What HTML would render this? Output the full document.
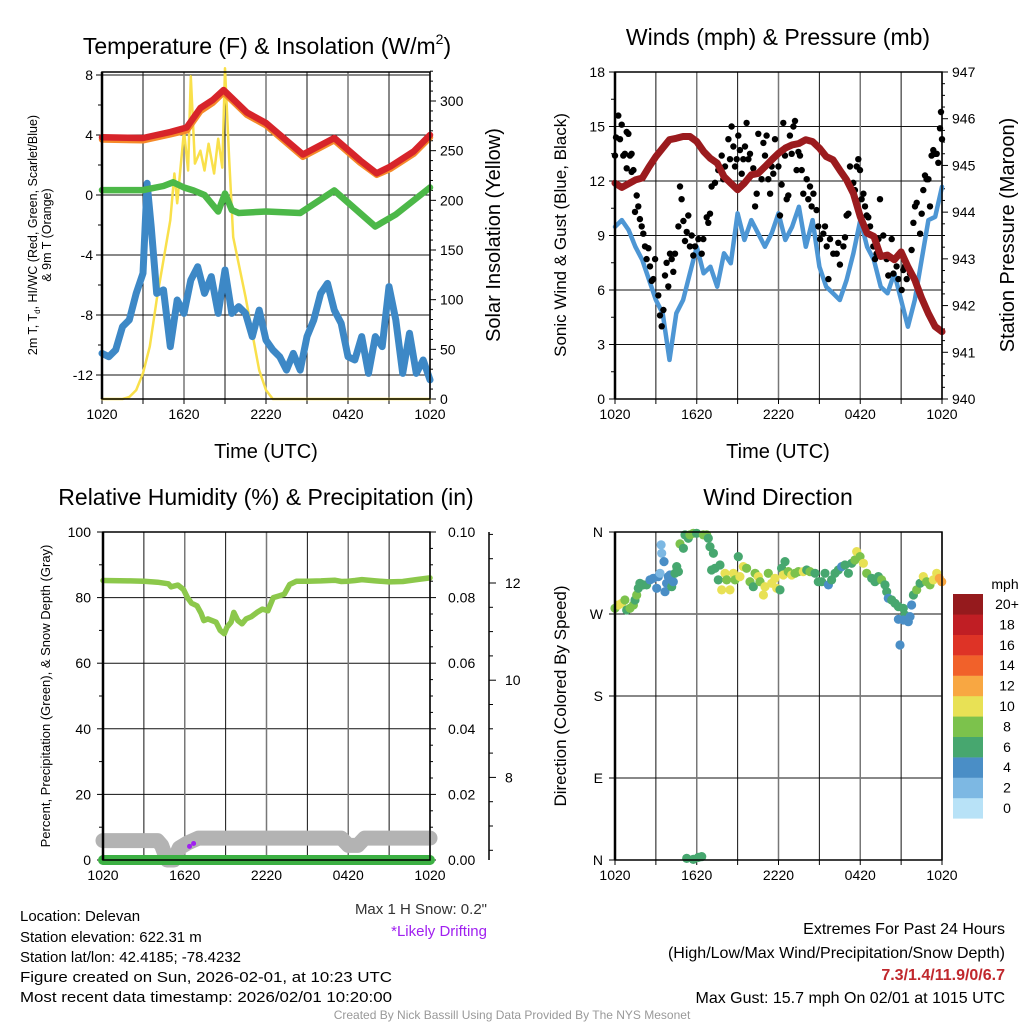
<!DOCTYPE html>
<html><head><meta charset="utf-8"><title>Mesonet Station Meteogram - Delevan</title>
<style>
html,body{margin:0;padding:0;background:#fff;}
svg{display:block;font-family:"Liberation Sans",Arial,sans-serif;}
</style></head>
<body>
<svg id="chart" width="1024" height="1024" viewBox="0 0 1024 1024" xmlns="http://www.w3.org/2000/svg">
<rect x="0" y="0" width="1024" height="1024" fill="#fff"/>
<text x="267" y="54" font-size="23" text-anchor="middle">Temperature (F) &amp; Insolation (W/m<tspan font-size="14" dy="-10">2</tspan><tspan dy="10">)</tspan></text>
<text x="778" y="45" font-size="23" text-anchor="middle">Winds (mph) &amp; Pressure (mb)</text>
<text x="266" y="505" font-size="23" text-anchor="middle">Relative Humidity (%) &amp; Precipitation (in)</text>
<text x="778" y="505" font-size="23" text-anchor="middle">Wind Direction</text>

<text transform="translate(37,235) rotate(-90)" font-size="12.5" text-anchor="middle">2m T, T<tspan font-size="8" dy="3">d</tspan><tspan dy="-3">, HI/WC (Red, Green, Scarlet/Blue)</tspan></text>
<text transform="translate(51,235) rotate(-90)" font-size="12.5" text-anchor="middle">&amp; 9m T (Orange)</text>
<text transform="translate(500,235) rotate(-90)" font-size="20" text-anchor="middle">Solar Insolation (Yellow)</text>
<text x="266" y="458" font-size="20" text-anchor="middle">Time (UTC)</text>

<text transform="translate(566,235) rotate(-90)" font-size="17" text-anchor="middle">Sonic Wind &amp; Gust (Blue, Black)</text>
<text transform="translate(1014,235) rotate(-90)" font-size="20" text-anchor="middle">Station Pressure (Maroon)</text>
<text x="778" y="458" font-size="20" text-anchor="middle">Time (UTC)</text>

<text transform="translate(50,696) rotate(-90)" font-size="13" text-anchor="middle">Percent, Precipitation (Green), &amp; Snow Depth (Gray)</text>
<text transform="translate(566,696) rotate(-90)" font-size="17" text-anchor="middle">Direction (Colored By Speed)</text>

<text x="20" y="921" font-size="15">Location: Delevan</text>
<text x="20" y="942" font-size="15">Station elevation: 622.31 m</text>
<text x="20" y="962" font-size="15">Station lat/lon: 42.4185; -78.4232</text>
<text x="20" y="982" font-size="15" textLength="372" lengthAdjust="spacingAndGlyphs">Figure created on Sun, 2026-02-01, at 10:23 UTC</text>
<text x="20" y="1002" font-size="15" textLength="372" lengthAdjust="spacingAndGlyphs">Most recent data timestamp: 2026/02/01 10:20:00</text>
<text x="487" y="914" font-size="15" text-anchor="end" fill="#333">Max 1 H Snow: 0.2"</text>
<text x="487" y="936" font-size="15" text-anchor="end" fill="#a020f0">*Likely Drifting</text>
<text x="1005" y="934" font-size="16" text-anchor="end">Extremes For Past 24 Hours</text>
<text x="1005" y="958" font-size="16" text-anchor="end">(High/Low/Max Wind/Precipitation/Snow Depth)</text>
<text x="1005" y="980" font-size="16" font-weight="bold" text-anchor="end" fill="#c0282d">7.3/1.4/11.9/0/6.7</text>
<text x="1005" y="1003" font-size="16" text-anchor="end">Max Gust: 15.7 mph On 02/01 at 1015 UTC</text>
<text x="512" y="1019" font-size="12" text-anchor="middle" fill="#999">Created By Nick Bassill Using Data Provided By The NYS Mesonet</text>
</svg>
<script>
// ---------- DATA ----------
const timeLabels = ["1020","1620","2220","0420","1020"];
// Panel 1
const tempH = [0,3,5,6.2,7.2,8.1,8.9,10.6,12,14.7,17,18.9,20.1,21.1,22.8,24];
const tempV = [3.85,3.8,4.2,4.5,5.8,6.33,7.0,5.5,4.8,2.7,3.8,2.3,1.45,1.9,2.9,4.0];
const temp9V = [3.7,3.65,4.05,4.3,5.6,6.15,6.85,5.35,4.65,2.55,3.65,2.15,1.35,1.75,2.75,3.85];
const dewH = [0,3,4.5,5.2,6,6.7,7.5,8.5,9,9.5,10,12,14.5,17,18.5,20,21.5,24];
const dewV = [0.33,0.33,0.6,0.85,0.5,0.3,0,-1.1,0.1,-1.0,-1.2,-1.1,-1.2,0.3,-0.9,-2.1,-1.3,0.5];
const wcH = [0,0.5,1,1.5,2,2.5,3,3.3,3.6,4,4.5,5,5.5,6,6.5,7,7.5,8,8.5,9,9.5,10,10.5,11,11.5,12,12.5,13,13.5,14,14.5,15,15.5,16,16.5,17,17.5,18,18.5,19,19.5,20,20.5,21,21.5,22,22.5,23,23.5,24];
const wcV = [-10.56,-10.78,-10.33,-8.78,-8.33,-6.56,-5.22,0.78,-2.11,-6.56,-6.33,-10.11,-7,-7.89,-5.67,-4.78,-6.56,-5.44,-7.89,-5,-7.89,-7.44,-7.89,-9.44,-7.67,-9.67,-10.33,-10.78,-11.67,-10.56,-11.67,-9.44,-8.33,-6.56,-5.89,-7.67,-8.56,-10.78,-11,-9.44,-11.89,-9.44,-10.11,-6.11,-8.33,-11.89,-9.22,-11.89,-11,-12.33];
const solH = [0,1.5,2,2.5,3,3.5,4,4.5,5,5.3,5.5,6,6.3,6.5,6.8,7.2,7.5,7.8,8.2,8.5,8.8,9,9.3,9.6,10,10.5,11,11.5,12,12.5,24];
const solV = [0,0,2,9,26,53,100,140,180,227,197,270,230,325,237,250,230,257,227,262,233,333,243,163,136,103,66,29,9,0,0];
const tempTicks = [8,4,0,-4,-8,-12];
const solTicks = [0,50,100,150,200,250,300];
// Panel 2
const presH = [0,0.5,1.5,2,2.5,3,3.5,4,4.5,5,5.5,6,6.5,7,7.5,8,8.5,9,9.5,10,10.5,11,11.5,12,12.5,13,13.5,14,14.5,15,15.5,16,16.5,17,17.5,18,18.5,19,19.5,20,20.5,21,21.5,22,22.5,23,23.5,24];
const presV = [944.62,944.53,944.69,944.73,944.97,945.19,945.37,945.55,945.58,945.62,945.62,945.51,945.30,945.15,945.05,944.76,944.62,944.48,944.62,944.80,944.83,944.97,945.12,945.26,945.37,945.44,945.47,945.55,945.51,945.37,945.19,945.12,944.90,944.69,944.40,943.90,943.55,943.48,943.05,943.08,942.98,943.15,942.83,942.55,942.16,941.83,941.55,941.44];
const windH = [0,0.5,1,1.5,2,2.5,3,3.5,4,4.5,5,5.5,6,6.5,7,7.5,8,8.5,9,9.5,10,10.5,11,11.5,12,12.5,13,13.5,14,14.5,15,15.5,16,16.5,17,17.5,18,18.5,19,19.5,20,20.5,21,21.5,22,22.5,23,23.5,24];
const windV = [9.48,9.85,9.30,8.38,7.65,6.55,5.45,4.72,2.15,4.72,5.45,6.92,8.38,6.92,7.28,6.18,8.02,7.47,10.22,8.75,9.85,9.12,8.38,9.12,10.22,8.75,9.48,10.58,8.38,9.85,7.28,6.18,5.82,5.45,6.55,8.02,9.85,8.38,7.65,6.18,5.82,6.92,5.45,3.98,5.45,7.65,9.85,10.03,11.68];
const gustH = [0,0.07,0.24,0.37,0.49,0.61,0.73,0.86,0.86,0.98,1.1,1.22,1.22,1.35,1.47,1.59,1.71,1.83,1.96,2.08,2.2,2.32,2.45,2.57,2.69,2.81,2.94,3.18,3.3,3.43,3.55,3.67,3.79,3.91,4.04,4.16,4.28,4.4,4.65,4.77,4.89,5.02,5.14,5.26,5.38,5.5,5.63,5.75,5.87,6.12,6.36,6.48,6.73,6.85,6.97,7.09,7.34,7.58,7.83,7.95,8.07,8.32,8.44,8.56,8.69,8.81,8.93,9.05,9.17,9.3,9.42,9.54,9.66,9.79,9.91,10.15,10.28,10.4,10.52,10.76,10.89,11.01,11.13,11.25,11.38,11.5,11.62,11.74,11.99,12.11,12.23,12.35,12.48,12.6,12.72,12.84,12.97,13.09,13.21,13.33,13.46,13.58,13.7,13.82,14.07,14.19,14.31,14.43,14.56,14.8,14.92,15.05,15.29,15.41,15.54,15.66,15.78,16.02,16.27,16.39,16.51,16.76,16.88,17.0,17.13,17.25,17.49,17.61,17.74,17.86,17.98,18.1,18.23,18.35,18.47,18.59,18.72,18.96,19.08,19.2,19.33,19.45,19.69,19.94,20.06,20.31,20.43,20.67,20.8,21.04,21.16,21.28,21.41,21.65,21.77,21.9,22.02,22.14,22.39,22.51,22.63,22.75,22.87,23.0,23.12,23.24,23.36,23.49,23.61,23.73,23.85,23.93,24.0];
const gustV = [13.4,14.4,15.6,14.3,15.1,13.4,13.5,12.7,14.7,14.6,13.4,13.5,12.5,12.6,10.3,11.2,10.6,9.9,9.5,9.1,8.4,7.7,8.3,7.3,6.5,6.6,7.7,5.7,4.6,4.0,4.9,6.8,7.5,6.2,8.0,7.7,7.0,8.0,9.5,11.7,11.0,9.8,8.7,9.2,10.1,8.4,9.0,7.9,8.4,8.8,8.0,8.8,10.0,9.7,10.2,11.7,11.9,12.6,13.4,12.1,12.8,14.3,13.2,15.0,13.9,12.8,13.2,14.5,13.7,12.4,13.2,13.9,15.2,13.2,13.5,12.7,10.6,11.3,14.6,12.1,14.1,13.4,14.5,12.1,11.3,12.8,12.4,14.3,12.8,10.1,11.8,15.2,13.4,11.0,11.2,14.5,13.5,15.0,15.3,12.6,13.6,13.4,12.6,11.3,12.1,11.0,11.7,10.6,11.3,10.4,9.5,8.8,9.1,9.5,8.4,6.6,8.8,8.0,8.0,8.6,7.4,8.4,8.9,10.1,10.2,12.8,11.9,11.5,12.8,13.2,12.6,11.0,11.3,10.6,10.1,10.0,9.5,8.4,7.7,8.0,8.8,11.0,9.0,7.7,6.8,8.8,6.9,7.3,6.6,6.0,7.1,7.3,6.6,6.9,8.2,9.7,10.6,10.8,9.1,10.2,11.5,12.3,12.1,12.1,10.6,13.4,13.7,13.5,13.5,13.0,14.9,15.8,14.3];
const windTicks = [0,3,6,9,12,15,18];
const presTicks = [940,941,942,943,944,945,946,947];
// Panel 3
const rhH = [0,2,3,4,4.8,5,5.5,5.9,6.2,6.5,6.9,7.2,7.4,7.7,8,8.3,8.6,8.9,9.1,9.4,9.6,9.9,10.2,10.5,10.9,11.3,11.7,12.1,12.5,12.9,13.3,13.7,14.2,15,16,17,17.5,18,18.5,19,20,21,22,23,24];
const rhV = [85.2,85.1,85,84.7,84.2,83.3,83.8,82.5,80,78.3,77.5,75.2,73,73.5,73,72.5,70,69,71,72.5,75.5,73,72,73.5,74.2,75.5,76.5,76,80,80.5,81,84,85,85,85.1,85.3,84.9,85,85.2,85.5,85.1,84.8,84.9,85.5,86];
const snowH = [0,4,4.3,4.7,5.2,5.6,6.2,7,17.5,18,18.7,19.2,24];
const snowV = [6.7,6.7,6.6,6.3,6.3,6.55,6.65,6.75,6.75,6.6,6.6,6.75,6.75];
const precipH = [0,24];
const precipV = [0,0];
const driftH = [6.35,6.65];
const driftV = [6.58,6.64];
const rhTicks = [0,20,40,60,80,100];
const precipTicks = ["0.00","0.02","0.04","0.06","0.08","0.10"];
const snowTicks = [8,10,12];
// Panel 4
const dirH = [0,0.24,0.49,0.73,0.86,1.1,1.35,1.47,1.59,1.71,1.83,2.08,2.32,2.57,2.81,3.06,3.18,3.3,3.43,3.38,3.6,3.67,3.79,3.91,4.04,4.16,4.28,4.4,4.53,4.65,4.77,5.02,5.14,5.38,5.5,5.75,5.99,6.48,6.73,6.85,6.97,7.22,7.09,7.34,7.58,7.71,7.83,8.07,8.2,8.44,8.69,8.81,9.05,9.17,9.42,9.66,9.91,10.15,10.28,10.52,10.64,10.89,11.01,11.25,11.5,11.74,11.87,12.11,12.23,12.35,12.48,12.72,12.97,13.21,13.46,13.82,14.07,14.31,14.68,14.92,15.17,15.41,15.66,15.9,16.15,16.39,16.64,16.88,17.13,17.37,17.61,17.74,17.98,18.23,18.47,18.84,19.08,19.33,19.57,19.82,19.94,20.06,20.31,20.55,20.8,21.16,21.28,20.8,21.16,21.53,21.77,20.92,21.65,21.9,22.14,22.39,22.63,22.87,23.12,23.36,23.61,23.8,23.98,5.26,5.75,6.12,6.36];
const dirV = [276.3,279.9,281.7,285.4,274.4,276.3,279.9,285.4,290.9,298.2,303.7,301.9,301.9,307.4,309.2,298.2,311.0,314.7,336.6,345.8,327.5,294.5,303.7,311.0,312.8,300.0,305.5,314.7,322.0,316.5,346.9,342.1,356.8,353.1,356.8,358.6,358.6,356.8,356.8,353.1,343.9,336.6,318.3,320.2,307.4,323.8,296.4,314.7,307.4,296.4,314.7,307.4,333.0,311.0,322.0,320.2,305.5,300.0,314.7,311.0,305.5,290.9,300.0,314.7,303.7,309.2,298.2,296.4,320.2,312.8,327.5,316.5,312.8,314.7,316.5,316.5,318.3,316.5,314.7,305.5,305.5,314.7,301.9,307.4,314.7,318.3,322.0,323.8,314.7,325.7,329.3,338.5,333.0,325.7,314.7,309.2,305.5,311.0,307.4,301.9,294.5,287.2,285.4,281.7,278.1,276.3,268.9,264.2,263.4,261.6,279.9,236.0,267.1,290.9,296.4,303.7,311.0,305.5,301.9,307.4,314.7,309.2,305.5,1.8,0.7,2.9,3.7];
const dirSpd = [9,10,10,8,7,8,8,7,8,7,7,7,7,4,4,4,4,3,2,2,4,4,4,4,5,6,4,6,6,7,8,7,6,6,8,8,6,8,8,6,6,6,6,7,7,6,10,10,8,10,10,8,6,10,10,8,9,7,8,10,9,10,10,8,10,10,10,6,6,10,7,8,10,9,8,10,7,8,7,6,6,6,4,6,6,6,5,6,6,6,9,10,8,10,8,6,7,7,8,6,6,4,6,6,6,6,6,4,4,4,4,4,4,7,8,7,10,8,9,10,10,12,12,6,6,6,6];
const dirTicks = [0,90,180,270,360];
const dirTickLabels = ["N","E","S","W","N"];
const speedLevels = ["0","2","4","6","8","10","12","14","16","18","20+"];
const speedColors = ["#b8e2f7","#7db8e3","#4a8ec6","#47a76f","#7cc24c","#e8e155","#f8a742","#f1612a","#de3326","#c01e24","#951a1d"];

// ---------- DRAWING ----------
const NS = "http://www.w3.org/2000/svg";
const svg = document.getElementById("chart");
function mk(tag, attrs, parent) {
  const e = document.createElementNS(NS, tag);
  for (const k in attrs) e.setAttribute(k, attrs[k]);
  (parent || svg).appendChild(e);
  return e;
}
function group(name) {
  const g = mk("g", {});
  
  
  return g;
}
function pathFrom(hs, vs, X, Y) {
  let d = "";
  for (let i = 0; i < hs.length; i++) d += (i ? "L" : "M") + X(hs[i]).toFixed(1) + "," + Y(vs[i]).toFixed(1);
  return d;
}
function line(g, hs, vs, X, Y, color, w, name) {
  const p = mk("path", {d: pathFrom(hs, vs, X, Y), fill: "none", stroke: color, "stroke-width": w, "stroke-linejoin": "round", "stroke-linecap": "round"}, g);
  
  
  return p;
}
function txt(g, x, y, s, size, anchor, name) {
  const t = mk("text", {x: x, y: y, "font-size": size, "text-anchor": anchor}, g);
  t.textContent = s;
  
  
  return t;
}
function seg(g, x1, y1, x2, y2, color, w) {
  const l = mk("line", {x1: x1, y1: y1, x2: x2, y2: y2, stroke: color, "stroke-width": w}, g);
  
  
  return l;
}
function frameTime(g, L, R, T, B, X) {
  for (let h = 0; h <= 24; h += 3) {
    const x = X(h);
    const major = h % 6 === 0;
    seg(g, x, T, x, B, major ? "#777" : "#111", major ? 1.5 : 1);
    seg(g, x, B, x, B + 5, "#000", 1);
  }
  timeLabels.forEach((s, i) => txt(g, X(i * 6), B + 20, s, 14, "middle", "x-tick-label"));
}
function frameBox(g, L, R, T, B) {
  const r = mk("rect", {x: L, y: T, width: R - L, height: B - T, fill: "none", stroke: "#000", "stroke-width": 1.5}, g);
  
  
  seg(g, L, T, L, B, "#000", 2.5);
}

// ===== Panel 1 =====
(function () {
  const L = 102, R = 430, T = 72, B = 399;
  const X = h => L + h * (R - L) / 24;
  const Y = v => 195 - 15 * v;
  const YS = w => 399 - w * (298 / 300);
  const g = group("temperature-panel");
  const grid = group("temperature-grid"); g.appendChild(grid);
  tempTicks.forEach(v => { seg(grid, L, Y(v), R, Y(v), "#111", 1); });
  frameTime(grid, L, R, T, B, X);
  for (let v = -12; v <= 8; v += 2) seg(grid, L - (v % 4 === 0 ? 6 : 4), Y(v), L, Y(v), "#000", 1);
  tempTicks.forEach(v => txt(grid, L - 9, Y(v) + 5, String(v), 14, "end", "temp-tick-label"));
  for (let w = 0; w <= 330; w += 10) seg(grid, R, YS(w), R + (w % 50 === 0 ? 6 : 3), YS(w), "#000", 1);
  solTicks.forEach(w => txt(grid, R + 10, YS(w) + 5, String(w), 14, "start", "solar-tick-label"));
  const s = group("temperature-series"); g.appendChild(s);
  line(s, solH, solV, X, YS, "#f9e04b", 2.5, "solar-insolation-line");
  line(s, wcH, wcV, X, Y, "#3d88c6", 7, "wind-chill-line");
  line(s, dewH, dewV, X, Y, "#4cb848", 6.5, "dewpoint-line");
  line(s, tempH, temp9V, X, Y, "#f58a2a", 6.5, "temp-9m-line");
  line(s, tempH, tempV, X, Y, "#d7242a", 6.5, "temp-2m-line");
  frameBox(g, L, R, T, B);
})();

// ===== Panel 2 =====
(function () {
  const L = 615, R = 942, T = 72, B = 399;
  const X = h => L + h * (R - L) / 24;
  const Y = v => B - v * (B - T) / 18;
  const YP = p => B - (p - 940) * (B - T) / 7;
  const g = group("winds-panel");
  const grid = group("winds-grid"); g.appendChild(grid);
  windTicks.forEach(v => seg(grid, L, Y(v), R, Y(v), "#111", 1));
  frameTime(grid, L, R, T, B, X);
  for (let v = 0; v <= 18; v += 1.5) seg(grid, L - (v % 3 === 0 ? 6 : 4), Y(v), L, Y(v), "#000", 1);
  windTicks.forEach(v => txt(grid, L - 10, Y(v) + 5, String(v), 14, "end", "wind-tick-label"));
  for (let p = 940; p <= 947.001; p += 0.25) seg(grid, R, YP(p), R + (Math.abs(p - Math.round(p)) < 0.01 ? 6 : 3), YP(p), "#000", 1);
  presTicks.forEach(p => txt(grid, R + 10, YP(p) + 5, String(p), 14, "start", "pressure-tick-label"));
  const s = group("winds-series"); g.appendChild(s);
  line(s, windH, windV, X, Y, "#4d96d4", 4.5, "sonic-wind-line");
  gustH.forEach((h, i) => {
    const c = mk("circle", {cx: X(h).toFixed(1), cy: Y(gustV[i]).toFixed(1), r: 3.2, fill: "#000"}, s);
    
    
  });
  line(s, presH, presV, X, YP, "#9b1b1e", 7, "pressure-line");
  frameBox(g, L, R, T, B);
})();

// ===== Panel 3 =====
(function () {
  const L = 103, R = 430, T = 532, B = 860;
  const X = h => L + h * (R - L) / 24;
  const Y = v => B - v * (B - T) / 100;
  const YN = s => 583 - (s - 12) * 48.6;
  const g = group("humidity-panel");
  const grid = group("humidity-grid"); g.appendChild(grid);
  rhTicks.forEach(v => seg(grid, L, Y(v), R, Y(v), "#111", 1));
  frameTime(grid, L, R, T, B, X);
  for (let v = 0; v <= 100; v += 10) seg(grid, L - (v % 20 === 0 ? 6 : 4), Y(v), L, Y(v), "#000", 1);
  rhTicks.forEach(v => txt(grid, L - 12, Y(v) + 5, String(v), 14, "end", "rh-tick-label"));
  for (let v = 0; v <= 100; v += 5) seg(grid, R, Y(v), R + (v % 20 === 0 ? 6 : 3), Y(v), "#000", 1);
  precipTicks.forEach((s, i) => txt(grid, R + 18, Y(i * 20) + 5, s, 14, "start", "precip-tick-label"));
  seg(grid, 489, T, 489, B, "#000", 1.5);
  for (let sn = 6.5; sn <= 13.2; sn += 0.5) {
    const y = YN(sn);
    if (y >= T && y <= B) seg(grid, 489, y, 489 + (sn % 2 === 0 ? 7 : 4), y, "#000", 1);
  }
  snowTicks.forEach(sn => txt(grid, 505, YN(sn) + 5, String(sn), 14, "start", "snow-tick-label"));
  const s = group("humidity-series"); g.appendChild(s);
  line(s, snowH, snowV, X, YN, "#b3b3b3", 15, "snow-depth-line");
  driftH.forEach((h, i) => {
    const c = mk("circle", {cx: X(h), cy: YN(driftV[i]), r: 2.5, fill: "#a020f0"}, s);
    
    
  });
  line(s, precipH, precipV.map(v => v * 1000), X, Y, "#3cb043", 10, "precipitation-line");
  line(s, rhH, rhV, X, Y, "#8cc84b", 5.5, "relative-humidity-line");
  frameBox(g, L, R, T, B);
})();

// ===== Panel 4 =====
(function () {
  const L = 615, R = 942, T = 532, B = 860;
  const X = h => L + h * (R - L) / 24;
  const Y = d => B - d * (B - T) / 360;
  const g = group("wind-direction-panel");
  const grid = group("direction-grid"); g.appendChild(grid);
  dirTicks.forEach(d => seg(grid, L, Y(d), R, Y(d), "#111", 1));
  frameTime(grid, L, R, T, B, X);
  dirTicks.forEach((d, i) => { seg(grid, L - 6, Y(d), L, Y(d), "#000", 1); txt(grid, L - 12, Y(d) + 5, dirTickLabels[i], 14, "end", "direction-tick-label"); });
  const s = group("direction-series"); g.appendChild(s);
  dirH.forEach((h, i) => {
    const idx = Math.min(10, Math.floor(dirSpd[i] / 2));
    const c = mk("circle", {cx: X(h).toFixed(1), cy: Y(dirV[i]).toFixed(1), r: 4.6, fill: speedColors[idx]}, s);
    
    
  });
  frameBox(g, L, R, T, B);
  const cb = group("speed-colorbar"); g.appendChild(cb);
  txt(cb, 1005, 589, "mph", 14, "middle", "colorbar-unit-label");
  speedLevels.forEach((lab, i) => {
    const top = 594 + (10 - i) * 20.4;
    const r = mk("rect", {x: 953, y: top, width: 30, height: 20.6, fill: speedColors[i]}, cb);
    
    
    txt(cb, 1007, top + 15, lab, 14, "middle", "colorbar-label");
  });
})();
</script>
</body></html>
